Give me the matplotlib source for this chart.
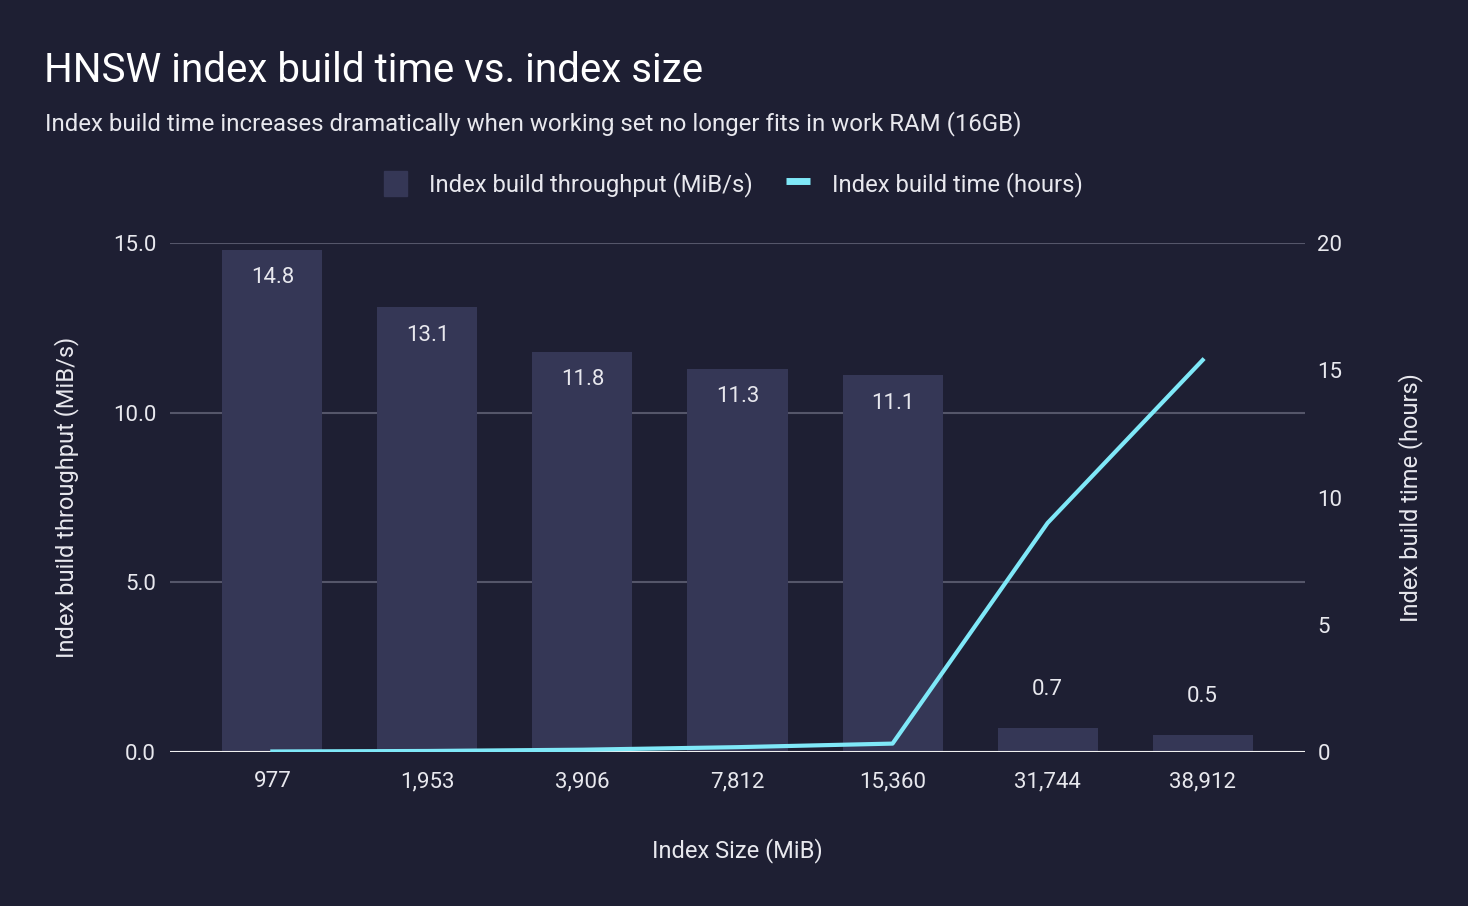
import matplotlib
matplotlib.use("Agg")
import matplotlib.pyplot as plt
from matplotlib.lines import Line2D
from matplotlib.patches import Patch

sizes = ["977", "1,953", "3,906", "7,812", "15,360", "31,744", "38,912"]
throughput = [14.8, 13.1, 11.8, 11.3, 11.1, 0.7, 0.5]
build_hours = [0.02, 0.04, 0.09, 0.19, 0.33, 9.0, 15.4]

BG = "#1e1f33"
BAR = "#353756"
LINE = "#7fe8f8"
GRID = "#55566a"
TXT = "#e8e8ee"

plt.rcParams["font.family"] = ["Roboto", "DejaVu Sans"]

fig = plt.figure(figsize=(14.68, 9.06), dpi=100, facecolor=BG)
ax = fig.add_axes([170 / 1468, 154 / 906, 1135 / 1468, 509 / 906])
ax.set_facecolor(BG)
ax2 = ax.twinx()

xs = list(range(len(sizes)))
ax.bar(xs, throughput, width=0.645, color=BAR, zorder=2)
for x, v in zip(xs, throughput):
    if v > 2:
        ax.annotate(f"{v:.1f}", (x, v), xytext=(0, -20), textcoords="offset points",
                    ha="center", va="center", color=TXT, fontsize=16)
    else:
        ax.annotate(f"{v:.1f}", (x, v), xytext=(0, 28), textcoords="offset points",
                    ha="center", va="center", color=TXT, fontsize=16)

ax2.plot(xs, build_hours, color=LINE, lw=3, zorder=3)

ax.set_xlim(-0.66, 6.66)
ax.set_ylim(0, 15)
ax2.set_ylim(0, 20)
ax.set_yticks([0, 5, 10, 15])
ax.set_yticklabels(["0.0", "5.0", "10.0", "15.0"])
ax2.set_yticks([0, 5, 10, 15, 20])
ax.set_xticks(xs)
ax.set_xticklabels(sizes)

ax.grid(axis="y", color=GRID, lw=1.5, zorder=0)
ax.axhline(0, color="#f0f0f0", lw=1.5, zorder=4)
for a in (ax, ax2):
    for s in a.spines.values():
        s.set_visible(False)
    a.tick_params(colors=TXT, labelsize=16, length=0)
ax.tick_params(axis="y", pad=10)
ax.tick_params(axis="x", pad=14)
ax2.tick_params(axis="y", pad=9)

ax.set_xlabel("Index Size (MiB)", color=TXT, fontsize=17, labelpad=33)
ax.set_ylabel("Index build throughput (MiB/s)", color=TXT, fontsize=17, labelpad=24)
ax2.set_ylabel("Index build time (hours)", color=TXT, fontsize=17, labelpad=40)

fig.text(44 / 1468, 1 - 70 / 906, "HNSW index build time vs. index size",
         color="white", fontsize=29, va="center")
fig.text(45 / 1468, 1 - 124 / 906,
         "Index build time increases dramatically when working set no longer fits in work RAM (16GB)",
         color=TXT, fontsize=17.3, va="center")

handles = [Patch(color=BAR), Line2D([], [], color=LINE, lw=5, solid_capstyle="butt")]
fig.legend(handles, ["Index build throughput (MiB/s)", "Index build time (hours)"],
           loc="center", bbox_to_anchor=(733 / 1468, 1 - 184 / 906), ncol=2,
           frameon=False, fontsize=17.2, labelcolor=TXT, handlelength=1.0,
           handleheight=1.2, columnspacing=1.4, handletextpad=0.9)

fig.savefig("out.png", dpi=100, facecolor=BG)
